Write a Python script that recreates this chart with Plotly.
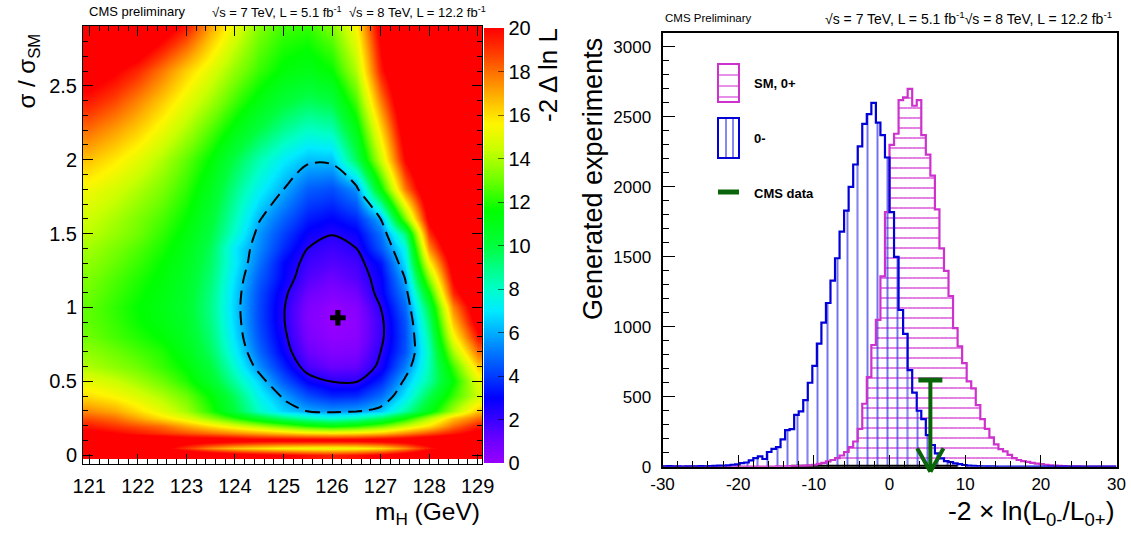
import numpy as np
import plotly.graph_objects as go

W, H = 1131, 539
FONT = "Liberation Sans, Arial, Helvetica, sans-serif"

# ---------------- likelihood scan: -2 delta lnL versus (m_H, sigma/sigma_SM) ----------------
mass_grid = [121.0, 121.5, 122.0, 122.5, 123.0, 123.5, 124.0, 124.5, 125.0,
             125.5, 126.0, 126.5, 127.0, 127.5, 128.0, 128.5, 129.0]
mu_grid = [0.0, 0.05, 0.1, 0.15, 0.2, 0.25, 0.3, 0.4, 0.5, 0.6, 0.7, 0.8, 0.9,
           1.0, 1.1, 1.2, 1.3, 1.4, 1.5, 1.6, 1.8, 2.0, 2.2, 2.4, 2.6, 2.9]
nll_scan = [
    [22, 22, 22, 22, 22, 21.5, 21, 20.5, 20.2, 19.7, 19.4, 19.7, 20.3, 21, 22, 22, 22],
    [21.5, 21.5, 21, 20.5, 19, 17.5, 16.5, 16, 15.5, 15.3, 15.2, 15.4, 16, 17.5, 19.5, 21, 21.5],
    [22, 22, 21.5, 21.5, 21, 21, 20.8, 20.5, 20.5, 20.5, 20.5, 20.5, 20.8, 21, 21.5, 22, 22],
    [20.5, 20, 19.5, 19, 18.5, 18, 17.5, 17, 16.5, 16, 15.8, 16, 16.5, 17.5, 18.5, 19.5, 20.5],
    [19.5, 19, 18.5, 18, 17, 16, 15, 14, 13, 12, 11.5, 12, 13, 14.5, 16, 18, 19.5],
    [18.5, 18, 17, 16, 15, 13.5, 12, 10.5, 9.3, 8.3, 7.8, 8.3, 9.5, 11.5, 14, 16.5, 18],
    [17.5, 17, 16, 15, 13.8, 12, 10, 8, 6.6, 5.9, 5.6, 5.8, 6.4, 8.5, 11, 13.8, 16.5],
    [16, 15.5, 14.8, 14, 13, 11.5, 9.5, 7.3, 5.8, 4.3, 3.6, 3.7, 4.9, 7, 9.8, 12.3, 14.5],
    [15, 14.5, 13.8, 13, 12, 10.5, 8.5, 6.6, 4.5, 2.9, 2.25, 2.2, 3.6, 6.2, 8.6, 11.5, 15],
    [14, 13.5, 13, 12.3, 11.5, 10, 7.8, 5.5, 3.6, 1.7, 1.1, 1.2, 2.6, 5.2, 8.3, 12.3, 16.3],
    [13.5, 13, 12.5, 12, 11, 9.5, 7.2, 4.8, 2.9, 1.1, 0.5, 0.6, 2.3, 4.4, 8.2, 13.8, 18],
    [13, 12.5, 12, 11.5, 10.7, 9.2, 6.8, 4.4, 2.6, 0.7, 0.15, 0.3, 2.0, 4.3, 8.6, 15.3, 19.6],
    [12.8, 12.3, 11.7, 11.2, 10.5, 9, 6.6, 4.2, 2.4, 0.5, 0.02, 0.2, 2.0, 4.4, 9.2, 16.5, 20.8],
    [12.8, 12.2, 11.6, 11.1, 10.4, 8.9, 6.5, 4.2, 2.4, 0.6, 0.1, 0.4, 2.3, 4.8, 10, 17.6, 21.5],
    [13, 12.4, 11.8, 11.2, 10.5, 9, 6.6, 4.3, 2.6, 1.0, 0.5, 0.9, 2.8, 5.3, 11.5, 19.2, 22.5],
    [13.2, 12.6, 12, 11.4, 10.6, 9.2, 6.8, 4.6, 3.0, 1.5, 1.0, 1.5, 2.9, 6, 13.5, 20.2, 23.3],
    [13.5, 12.9, 12.3, 11.6, 10.8, 9.4, 7.1, 5.0, 3.1, 1.9, 1.5, 1.8, 3.3, 6.9, 15.5, 21, 24],
    [13.8, 13.2, 12.6, 11.9, 11.0, 9.6, 7.0, 5.4, 3.7, 2.3, 1.9, 2.3, 4.5, 7.5, 17.5, 22, 24.8],
    [14.2, 13.6, 13, 12.2, 11.3, 9.9, 7.8, 5.6, 4.1, 2.8, 2.35, 2.8, 5.0, 9, 19, 22.8, 25.3],
    [14.5, 13.9, 13.2, 12.5, 11.6, 10.2, 8.2, 6.1, 4.7, 3.4, 3.0, 3.6, 6.0, 13, 20.5, 23.5, 25.8],
    [15.3, 14.7, 14, 13.2, 12.2, 10.8, 8.9, 7.3, 6.0, 4.6, 4.3, 5.5, 11.5, 17.8, 22, 24.5, 26.7],
    [16.5, 15.8, 15, 14, 12.8, 11.5, 9.8, 8.3, 7.1, 6.25, 6.3, 9.5, 14.5, 20, 23, 25.5, 27.5],
    [18, 17.2, 16.3, 15.2, 14, 12.6, 11.2, 9.9, 8.8, 8.0, 8.3, 11, 16.1, 21.1, 23.8, 26.1, 27.8],
    [19.5, 18.7, 17.6, 16.4, 15.1, 13.8, 12.4, 11.2, 10.2, 9.6, 10.0, 12.5, 17.8, 22, 24.5, 26.7, 28.3],
    [21, 20.2, 19.2, 17.8, 16.3, 14.9, 13.5, 12.3, 11.4, 11.0, 11.6, 14, 19.5, 22.8, 25.3, 27.3, 28.9],
    [24, 23.5, 22.5, 21, 19.5, 17, 15, 13.3, 12.4, 12.2, 13.2, 15.5, 20.7, 23.5, 25.9, 27.8, 29.3],
]
best_fit_mass = 126.12
best_fit_mu = 0.93
cl68_level = 2.30
cl95_level = 5.99
mass_ticks = [121, 122, 123, 124, 125, 126, 127, 128, 129]
mu_ticks = [0, 0.5, 1, 1.5, 2, 2.5]
mu_tick_text = ["0", "0.5", "1", "1.5", "2", "2.5"]
z_ticks = [0, 2, 4, 6, 8, 10, 12, 14, 16, 18, 20]

# ---------------- pseudo-experiment distributions of -2 ln(L0-/L0+) ----------------
n_bins = 100
q_lo, q_hi = -30.0, 30.0
counts_sm = [
    0, 0, 0, 0, 0, 0, 0, 0, 0, 0,
    0, 0, 0, 0, 0, 0, 0, 0, 0, 0,
    0, 0, 1, 0, 1, 2, 2, 3, 4, 5,
    6, 8, 10, 14, 20, 28, 38, 48, 62, 80,
    105, 140, 180, 270, 450, 640, 870, 1050, 1360, 1820,
    2300, 2380, 2620, 2640, 2700, 2580, 2620, 2370, 2230, 2080,
    1840, 1560, 1400, 1220, 990, 860, 740, 610, 560, 440,
    340, 270, 210, 160, 125, 110, 85, 62, 48, 40,
    34, 28, 22, 18, 14, 10, 8, 6, 4, 3,
    2, 2, 1, 1, 0, 1, 0, 0, 0, 0,
]
counts_ps = [
    3, 4, 2, 3, 1, 2, 3, 2, 4, 3,
    5, 6, 7, 8, 10, 14, 17, 26, 30, 45,
    62, 74, 55, 105, 127, 140, 195, 262, 268, 370,
    395, 476, 600, 720, 880, 1030, 1170, 1330, 1490, 1680,
    1830, 2000, 2160, 2290, 2450, 2520, 2600, 2460, 2370, 2210,
    1820, 1500, 1120, 950, 690, 530, 400, 340, 225, 155,
    95, 60, 40, 32, 24, 18, 12, 8, 6, 4,
    3, 2, 2, 1, 1, 0, 1, 0, 0, 0,
    0, 0, 0, 0, 0, 0, 0, 0, 0, 0,
    0, 0, 0, 0, 0, 0, 0, 0, 0, 0,
]
cms_data_q = 5.4
cms_data_height = 620
baseline_span = [-13.0, 9.0]
q_ticks = [-30, -20, -10, 0, 10, 20, 30]
q_tick_text = ["-30", "-20", "-10", "0", "10", "20", "30"]
count_ticks = [0, 500, 1000, 1500, 2000, 2500, 3000]
count_max = 3100

edges = np.linspace(q_lo, q_hi, n_bins + 1)
centers = 0.5 * (edges[:-1] + edges[1:])
bin_w = edges[1] - edges[0]


def pxx(x):
    return x / W


def pxy(y):
    return 1 - y / H


# ROOT-like rainbow palette
rainbow = [
    [0.00, "rgb(150,0,255)"], [0.05, "rgb(110,0,255)"], [0.10, "rgb(55,0,255)"],
    [0.15, "rgb(0,0,255)"], [0.20, "rgb(0,60,255)"], [0.25, "rgb(0,115,255)"],
    [0.30, "rgb(0,175,255)"], [0.35, "rgb(0,235,255)"], [0.40, "rgb(0,255,200)"],
    [0.45, "rgb(0,255,130)"], [0.50, "rgb(0,255,60)"], [0.58, "rgb(0,255,0)"],
    [0.65, "rgb(110,255,0)"], [0.72, "rgb(200,255,0)"], [0.78, "rgb(255,245,0)"],
    [0.84, "rgb(255,180,0)"], [0.90, "rgb(255,110,0)"], [0.95, "rgb(255,50,0)"],
    [1.00, "rgb(255,0,0)"],
]

fig = go.Figure()

# left: 2D scan
fig.add_trace(go.Heatmap(
    x=mass_grid, y=mu_grid, z=nll_scan, zmin=0, zmax=20, zsmooth="best",
    colorscale=rainbow, xaxis="x", yaxis="y", hoverinfo="skip",
    colorbar=dict(
        x=pxx(484), xanchor="left", xpad=0, y=pxy(245.5), yanchor="middle", ypad=0,
        len=435 / H, lenmode="fraction", thickness=20, thicknessmode="pixels",
        outlinewidth=0, ticks="inside", ticklen=6, tickcolor="rgba(0,0,0,0.55)",
        tickvals=z_ticks, tickfont=dict(family=FONT, size=20, color="black"),
    ),
))
for level, dash in [(cl68_level, "solid"), (cl95_level, "14px,7px")]:
    fig.add_trace(go.Contour(
        x=mass_grid, y=mu_grid, z=nll_scan, xaxis="x", yaxis="y",
        contours=dict(start=level, end=level, size=1, coloring="none"),
        line=dict(color="black", width=2, dash=dash, smoothing=0.85),
        showscale=False, hoverinfo="skip",
    ))
fig.add_trace(go.Scatter(
    x=[best_fit_mass], y=[best_fit_mu], mode="markers", xaxis="x", yaxis="y",
    marker=dict(symbol="cross", size=13, color="black"), hoverinfo="skip",
))

# right: toy distributions
fig.add_trace(go.Scatter(
    x=baseline_span, y=[0, 0], mode="lines", xaxis="x2", yaxis="y2",
    line=dict(color="black", width=4), hoverinfo="skip",
))
fig.add_trace(go.Bar(
    x=centers, y=counts_sm, width=bin_w, xaxis="x2", yaxis="y2",
    marker=dict(color="rgb(215,70,215)", line=dict(width=0),
                pattern=dict(shape="-", size=10, solidity=0.14, fillmode="replace")),
    hoverinfo="skip",
))
fig.add_trace(go.Bar(
    x=centers, y=counts_ps, width=bin_w, xaxis="x2", yaxis="y2",
    marker=dict(color="rgb(55,55,235)", line=dict(width=0),
                pattern=dict(shape="|", size=10, solidity=0.14, fillmode="replace")),
    hoverinfo="skip",
))
for counts, col in [(counts_sm, "rgb(205,50,205)"), (counts_ps, "rgb(0,0,215)")]:
    fig.add_trace(go.Scatter(
        x=list(edges), y=list(counts) + [counts[-1]], mode="lines", line_shape="hv",
        xaxis="x2", yaxis="y2", line=dict(color=col, width=2.2), hoverinfo="skip",
    ))

# observed value marker: T-bar on top of a downward arrow
green = "rgb(10,100,10)"
units_per_px_x = (q_hi - q_lo) / (1116.5 - 662.5)
units_per_px_y = count_max / (466.7 - 33)
fig.add_trace(go.Scatter(
    x=[cms_data_q - 12 * units_per_px_x, cms_data_q + 12 * units_per_px_x],
    y=[cms_data_height, cms_data_height], mode="lines", xaxis="x2", yaxis="y2",
    line=dict(color=green, width=5), hoverinfo="skip",
))
tip_y = -5 * units_per_px_y
wing_y = tip_y + 25 * units_per_px_y
annotations = []
for tail_dx, tail_y in [(0, cms_data_height), (-14, wing_y), (14, wing_y)]:
    annotations.append(dict(
        x=cms_data_q, y=tip_y, xref="x2", yref="y2",
        ax=cms_data_q + tail_dx * units_per_px_x, ay=tail_y,
        axref="x2", ayref="y2", text="", showarrow=True, arrowhead=0,
        arrowwidth=4, arrowcolor=green, standoff=0, startstandoff=0,
    ))


def txt(x, y, s, size, xanchor="left", yanchor="middle", angle=0, bold=False):
    annotations.append(dict(
        x=pxx(x), y=pxy(y), xref="paper", yref="paper", text=(f"<b>{s}</b>" if bold else s),
        showarrow=False, xanchor=xanchor, yanchor=yanchor, textangle=angle,
        font=dict(family=FONT, size=size, color="black"),
    ))


# headers
txt(87, 12, "CMS preliminary", 13)
txt(210, 12, "√s = 7 TeV, L = 5.1 fb<sup>-1</sup>  √s = 8 TeV, L = 12.2 fb<sup>-1</sup>", 13)
txt(663, 18, "CMS Preliminary", 11.5)
txt(823, 18, "√s = 7 TeV, L = 5.1 fb<sup>-1</sup>√s = 8 TeV, L = 12.2 fb<sup>-1</sup>", 14)

# axis titles
txt(482, 513, "m<sub>H</sub> (GeV)", 24.5, xanchor="right")
txt(28, 32, "σ / σ<sub>SM</sub>", 24, xanchor="center", yanchor="top", angle=-90)
txt(548, 26, "-2 Δ ln L", 26, xanchor="center", yanchor="top", angle=-90)
txt(593, 36, "Generated experiments", 27, xanchor="center", yanchor="top", angle=-90)
txt(946, 513, "-2 × ln(L<sub>0-</sub>/L<sub>0+</sub>)", 26.5, xanchor="left")

# legend
txt(752, 83, "SM, 0+", 13, bold=True)
txt(752, 138, "0-", 13, bold=True)
txt(752, 193, "CMS data", 13, bold=True)

shapes = []


def pline(x0, y0, x1, y1, color, width):
    shapes.append(dict(type="line", xref="paper", yref="paper",
                       x0=pxx(x0), y0=pxy(y0), x1=pxx(x1), y1=pxy(y1),
                       line=dict(color=color, width=width)))


for yy in (75, 86, 97):
    pline(719, yy, 738, yy, "rgb(215,70,215)", 1.2)
shapes.append(dict(type="rect", xref="paper", yref="paper", x0=pxx(718), x1=pxx(739),
                   y0=pxy(102), y1=pxy(64), line=dict(color="rgb(205,50,205)", width=2)))
for xx in (726, 733):
    pline(xx, 119, xx, 157, "rgb(55,55,235)", 1.2)
shapes.append(dict(type="rect", xref="paper", yref="paper", x0=pxx(718), x1=pxx(739),
                   y0=pxy(158), y1=pxy(118), line=dict(color="rgb(0,0,215)", width=2)))
pline(718, 192, 739, 192, green, 5)

axis_common = dict(showgrid=False, zeroline=False, showline=True, linecolor="black",
                   ticks="inside", tickcolor="black", automargin=False)

fig.update_layout(
    width=W, height=H, autosize=False, margin=dict(l=0, r=0, t=0, b=0, autoexpand=False),
    paper_bgcolor="white", plot_bgcolor="white", showlegend=False,
    barmode="overlay", font=dict(family=FONT, color="black"),
    xaxis=dict(domain=[pxx(83), pxx(482)], range=[120.87, 129.09], anchor="y",
               tickvals=mass_ticks, ticklen=10, linewidth=1, mirror="allticks",
               minor=dict(dtick=0.2, ticklen=5, ticks="inside", tickcolor="black"),
               tickfont=dict(family=FONT, size=20), ticklabelstandoff=4, **axis_common),
    yaxis=dict(domain=[pxy(464), pxy(26)], range=[-0.06, 2.905], anchor="x",
               tickvals=mu_ticks, ticktext=mu_tick_text, ticklen=10, linewidth=1, mirror="allticks",
               minor=dict(dtick=0.1, ticklen=5, ticks="inside", tickcolor="black"),
               tickfont=dict(family=FONT, size=20), ticklabelstandoff=1, **axis_common),
    xaxis2=dict(domain=[pxx(662.5), pxx(1116.5)], range=[q_lo, q_hi], anchor="y2",
                tickvals=q_ticks, ticktext=q_tick_text, ticklen=12, linewidth=2, mirror=True,
                minor=dict(dtick=2, ticklen=6, ticks="inside", tickcolor="black"),
                tickfont=dict(family=FONT, size=17), ticklabelstandoff=1, **axis_common),
    yaxis2=dict(domain=[pxy(466.7), pxy(33)], range=[0, count_max], anchor="x2",
                tickvals=count_ticks, ticklen=12, linewidth=2, mirror=True,
                minor=dict(dtick=100, ticklen=6, ticks="inside", tickcolor="black"),
                tickfont=dict(family=FONT, size=17), ticklabelstandoff=6, **axis_common),
    annotations=annotations, shapes=shapes,
)

fig.write_html("out.html")
